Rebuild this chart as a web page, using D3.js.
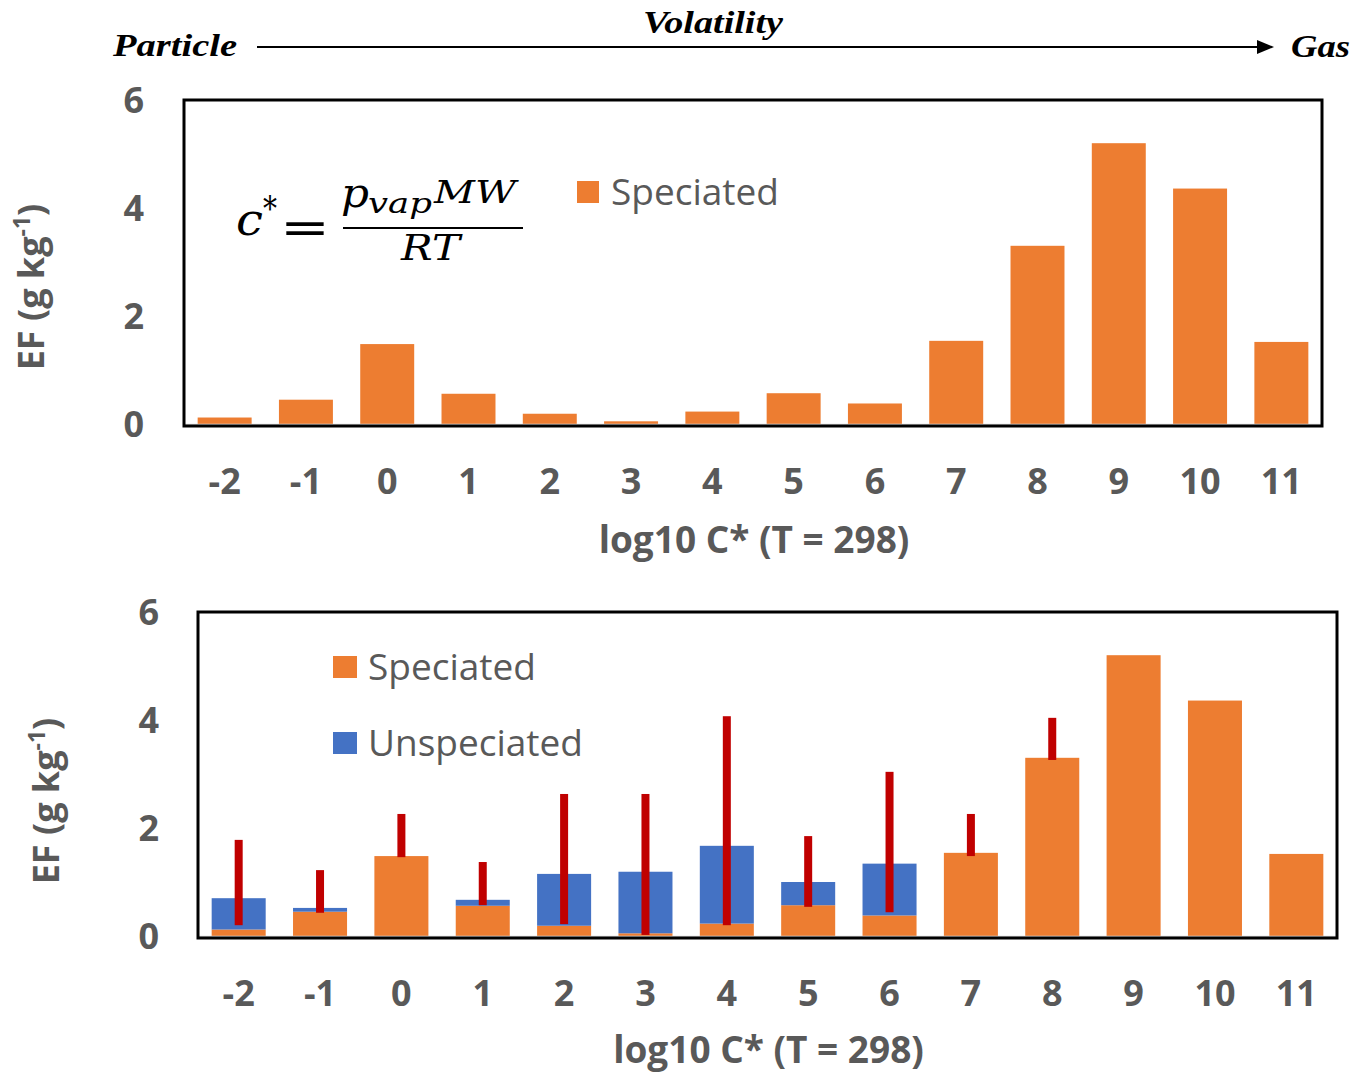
<!DOCTYPE html>
<html>
<head>
<meta charset="utf-8">
<script src="https://cdn.jsdelivr.net/npm/d3@7"></script>
<style>
  html, body { margin: 0; padding: 0; background: #fff; }
  svg { display: block; }
</style>
</head>
<body>
<svg id="chart" width="1355" height="1074"></svg>
<script>
// Volatility bins (log10 C* at 298 K)
const categories = ["-2", "-1", "0", "1", "2", "3", "4", "5", "6", "7", "8", "9", "10", "11"];
// Emission factors, g kg-1
const speciated   = [0.12, 0.45, 1.48, 0.56, 0.19, 0.05, 0.23, 0.57, 0.38, 1.54, 3.30, 5.20, 4.36, 1.52];
const unspeciated = [0.58, 0.07, 0.00, 0.11, 0.96, 1.14, 1.44, 0.43, 0.96, 0.00, 0.00, 0.00, 0.00, 0.00];
// Uncertainty range drawn as a bar per bin (null = none)
const errLow  = [0.20, 0.43, 1.46, 0.57, 0.22, 0.02, 0.20, 0.54, 0.44, 1.48, 3.26, null, null, null];
const errHigh = [1.78, 1.22, 2.26, 1.37, 2.63, 2.63, 4.07, 1.85, 3.04, 2.26, 4.04, null, null, null];
const yTicks = [0, 2, 4, 6];

const ORANGE = "#ED7D31", BLUE = "#4472C4", RED = "#C00000", GREY = "#595959";
const SANS = "'Open Sans', 'Noto Sans', sans-serif";
const SERIF = "'Liberation Serif', 'DejaVu Serif', serif";
const MATH = "'DejaVu Serif', 'Liberation Serif', serif";

const svg = d3.select("#chart");

// ---- Volatility header ----
const head = svg.append("g")
  .style("font-family", SERIF).style("font-weight", "bold").style("font-style", "italic")
  .style("font-size", "32px").attr("fill", "#000");
head.append("text").text("Particle")
  .attr("x", 113).attr("y", 56)
  .attr("textLength", 124).attr("lengthAdjust", "spacingAndGlyphs");
head.append("text").text("Volatility")
  .attr("x", 643).attr("y", 33)
  .attr("textLength", 140).attr("lengthAdjust", "spacingAndGlyphs");
head.append("text").text("Gas")
  .attr("x", 1291).attr("y", 57)
  .attr("textLength", 59).attr("lengthAdjust", "spacingAndGlyphs");
head.append("line")
  .attr("x1", 257).attr("x2", 1262).attr("y1", 47).attr("y2", 47)
  .attr("stroke", "#000").attr("stroke-width", 2);
head.append("path")
  .attr("d", "M1257,40 L1274,47 L1257,54 Z").attr("fill", "#000");

// ---- one bar panel ----
function panel(opts) {
  const { left, right, top, bottom, tickRight, titleX, titleY, stacked } = opts;
  const g = svg.append("g");

  const x = d3.scaleBand().domain(categories).range([left, right])
    .paddingInner(0.336).paddingOuter(0.168);
  const y = d3.scaleLinear().domain([0, 6]).range([bottom - 2, top]);

  // bars: speciated at the base, unspeciated stacked above
  const rows = categories.map((c, i) => ({
    c, s: speciated[i], u: stacked ? unspeciated[i] : 0,
    lo: errLow[i], hi: errHigh[i]
  }));

  g.selectAll("rect.spec").data(rows).join("rect").attr("class", "spec")
    .attr("x", d => x(d.c)).attr("width", x.bandwidth())
    .attr("y", d => y(d.s)).attr("height", d => y(0) - y(d.s))
    .attr("fill", ORANGE);

  if (stacked) {
    g.selectAll("rect.unspec").data(rows.filter(d => d.u > 0)).join("rect").attr("class", "unspec")
      .attr("x", d => x(d.c)).attr("width", x.bandwidth())
      .attr("y", d => y(d.s + d.u)).attr("height", d => y(d.s) - y(d.s + d.u))
      .attr("fill", BLUE);
    g.selectAll("rect.err").data(rows.filter(d => d.hi != null)).join("rect").attr("class", "err")
      .attr("x", d => x(d.c) + x.bandwidth() / 2 - 4).attr("width", 8)
      .attr("y", d => y(d.hi)).attr("height", d => y(d.lo) - y(d.hi))
      .attr("fill", RED);
  }

  // category axis line
  g.append("line").attr("x1", left).attr("x2", right)
    .attr("y1", y(0) + 0.5).attr("y2", y(0) + 0.5)
    .attr("stroke", "#D9D9D9").attr("stroke-width", 1.5);

  // plot frame
  g.append("rect").attr("x", left).attr("y", top)
    .attr("width", right - left).attr("height", bottom - top)
    .attr("fill", "none").attr("stroke", "#000").attr("stroke-width", 3);

  // x axis
  const xa = g.append("g").attr("transform", `translate(0,${bottom})`)
    .call(d3.axisBottom(x).tickSize(0));
  xa.select(".domain").remove();
  xa.selectAll("text").attr("y", 55).attr("dy", "0.36em")
    .style("font-family", SANS).style("font-weight", "bold").style("font-size", "36px")
    .attr("fill", GREY);

  g.append("text").text("log10 C* (T = 298)")
    .attr("x", (left + right) / 2 + 1).attr("y", bottom + opts.xTitleOffset).attr("dy", "0.36em")
    .attr("text-anchor", "middle")
    .style("font-family", SANS).style("font-weight", "bold").style("font-size", "37px")
    .attr("fill", GREY);

  // y axis
  const ya = g.append("g").attr("transform", `translate(${tickRight},0)`)
    .call(d3.axisLeft(y).tickValues(yTicks).tickSize(0).tickPadding(0).tickFormat(d3.format("d")));
  ya.select(".domain").remove();
  ya.selectAll("text").attr("dy", "0.36em")
    .style("font-family", SANS).style("font-weight", "bold").style("font-size", "36px")
    .attr("fill", GREY);

  const yt = g.append("text")
    .attr("transform", `translate(${titleX},${titleY}) rotate(-90)`)
    .attr("text-anchor", "middle")
    .style("font-family", SANS).style("font-weight", "bold").style("font-size", "36px")
    .attr("fill", GREY);
  yt.append("tspan").text("EF (g kg");
  yt.append("tspan").text("-1").attr("dy", -14).style("font-size", "23px");
  yt.append("tspan").text(")").attr("dy", 14);

  return { g, x, y };
}

// ---- top panel: speciated only, with the c* definition ----
const p1 = panel({ left: 184, right: 1322, top: 100, bottom: 426, tickRight: 144,
  titleX: 44, titleY: 287, xTitleOffset: 114, stacked: false });

const leg1 = p1.g.append("g");
leg1.append("rect").attr("x", 577).attr("y", 181).attr("width", 22).attr("height", 22).attr("fill", ORANGE);
leg1.append("text").text("Speciated").attr("x", 611).attr("y", 192).attr("dy", "0.36em")
  .style("font-family", SANS).style("font-size", "37px").attr("fill", GREY);

// c* = p_vap MW / RT
const eq = p1.g.append("g").style("font-family", MATH).style("font-style", "italic").attr("fill", "#000");
eq.append("text").text("c").attr("x", 236).attr("y", 235)
  .attr("textLength", 27).attr("lengthAdjust", "spacingAndGlyphs").style("font-size", "44px");
eq.append("text").text("*").attr("x", 263).attr("y", 220)
  .attr("textLength", 14).attr("lengthAdjust", "spacingAndGlyphs")
  .style("font-size", "34px").style("font-style", "normal");
eq.append("text").text("=").attr("x", 280).attr("y", 243)
  .attr("textLength", 50).attr("lengthAdjust", "spacingAndGlyphs")
  .style("font-family", "'DejaVu Sans', sans-serif").style("font-style", "normal").style("font-size", "44px");
eq.append("line").attr("x1", 343).attr("x2", 523).attr("y1", 228).attr("y2", 228)
  .attr("stroke", "#000").attr("stroke-width", 2);
eq.append("text").text("p").attr("x", 341).attr("y", 207)
  .attr("textLength", 28).attr("lengthAdjust", "spacingAndGlyphs").style("font-size", "41px");
eq.append("text").text("vap").attr("x", 368).attr("y", 213)
  .attr("textLength", 64).attr("lengthAdjust", "spacingAndGlyphs").style("font-size", "28px");
eq.append("text").text("MW").attr("x", 434).attr("y", 203)
  .attr("textLength", 82).attr("lengthAdjust", "spacingAndGlyphs").style("font-size", "32px");
eq.append("text").text("RT").attr("x", 401).attr("y", 260)
  .attr("textLength", 59).attr("lengthAdjust", "spacingAndGlyphs").style("font-size", "35px");

// ---- bottom panel: speciated + unspeciated with uncertainty ----
const p2 = panel({ left: 198, right: 1337, top: 612, bottom: 938, tickRight: 159,
  titleX: 59, titleY: 801, xTitleOffset: 112, stacked: true });

const leg2 = p2.g.append("g");
leg2.append("rect").attr("x", 333).attr("y", 656).attr("width", 24).attr("height", 22).attr("fill", ORANGE);
leg2.append("text").text("Speciated").attr("x", 368).attr("y", 667).attr("dy", "0.36em")
  .style("font-family", SANS).style("font-size", "37px").attr("fill", GREY);
leg2.append("rect").attr("x", 333).attr("y", 732).attr("width", 24).attr("height", 22).attr("fill", BLUE);
leg2.append("text").text("Unspeciated").attr("x", 368).attr("y", 743).attr("dy", "0.36em")
  .style("font-family", SANS).style("font-size", "37px").attr("fill", GREY);
</script>
</body>
</html>
